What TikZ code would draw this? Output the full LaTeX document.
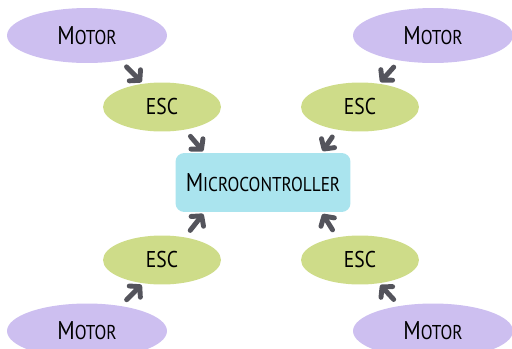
\documentclass[tikz,border=0pt]{standalone}
\usepackage{fontspec}
\setmainfont[FakeStretch=0.86]{PT Sans}
\usepackage{tikz}
\usetikzlibrary{arrows.meta,shapes.geometric}
\definecolor{motorc}{RGB}{205,191,240}
\definecolor{escc}{RGB}{206,220,137}
\definecolor{mcuc}{RGB}{170,228,238}
\definecolor{arrc}{RGB}{84,84,92}
\newcommand{\scap}[2]{{\fontsize{14.6}{16}\selectfont #1}{\fontsize{11.4}{16}\selectfont #2}}
\tikzset{
  mt/.style={ellipse,fill=motorc,minimum width=3.2cm,minimum height=1.1cm,inner sep=0pt},
  esc/.style={ellipse,fill=escc,minimum width=2.36cm,minimum height=0.98cm,inner sep=0pt,font=\fontsize{13}{14}\selectfont},
  mcu/.style={rectangle,rounded corners=5pt,fill=mcuc,minimum width=3.5cm,minimum height=1.18cm,inner sep=0pt},
  ed/.style={-{Straight Barb[length=4pt,width=9pt,round]},line width=2.8pt,draw=arrc,line cap=round,
    shorten <=0.17cm,shorten >=0.04cm},
}

\begin{document}
\begin{tikzpicture}[x=0.02cm,y=-0.02cm]
  \useasboundingbox (0,0) rectangle (512,349);
  \node[mt] (m1) at (87,35.5) {\scap{M}{OTOR}};
  \node[mt] (m2) at (433,35.5) {\scap{M}{OTOR}};
  \node[mt] (m3) at (87,331) {\scap{M}{OTOR}};
  \node[mt] (m4) at (433,331) {\scap{M}{OTOR}};
  \node[esc] (e1) at (162,107) {ESC};
  \node[esc] (e2) at (360,107) {ESC};
  \node[esc] (e3) at (162,260) {ESC};
  \node[esc] (e4) at (360,260) {ESC};
  \node[mcu] (mc) at (263,182.5) {\scap{M}{ICROCONTROLLER}};

  \draw[ed] (m1.-37) -- (e1.129);
  \draw[ed] (m2.-143) -- (e2.51);
  \draw[ed] (m3.37) -- (e3.-129);
  \draw[ed] (m4.143) -- (e4.-51);
  \draw[ed] (e1.-45) -- (mc.153);
  \draw[ed] (e2.-135) -- (mc.27);
  \draw[ed] (e3.45) -- (mc.-153);
  \draw[ed] (e4.135) -- (mc.-27);
\end{tikzpicture}
\end{document}
